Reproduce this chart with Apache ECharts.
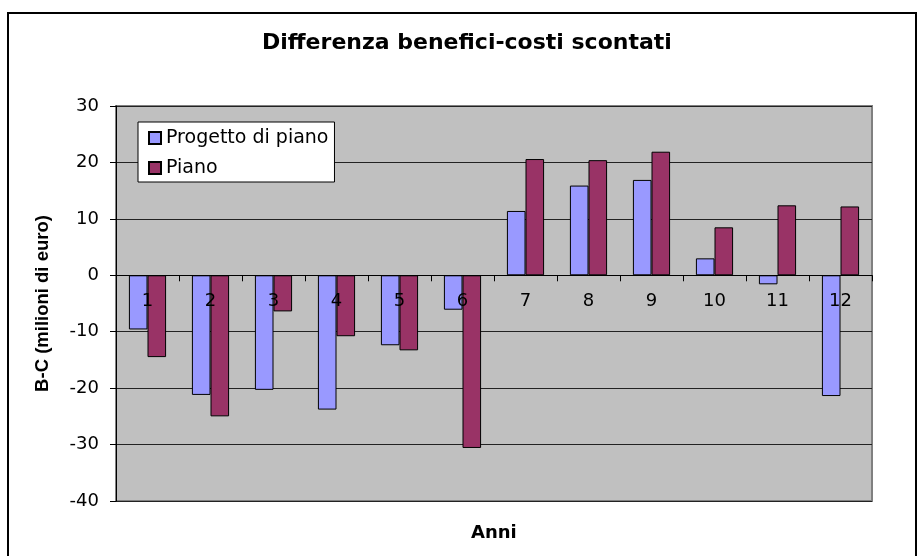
<!DOCTYPE html>
<html>
<head>
<meta charset="utf-8">
<script src="https://cdn.jsdelivr.net/npm/echarts@6/dist/echarts.min.js"></script>
<style>
html,body{margin:0;padding:0;background:#fff;}
#chart{width:918px;height:556px;}
</style>
</head>
<body>
<div id="chart"></div>
<script>
const titleText = 'Differenza benefici-costi scontati';
const xAxisName = 'Anni';
const yAxisName = 'B-C (milioni di euro)';
const categories = ['1','2','3','4','5','6','7','8','9','10','11','12'];
const seriesNames = ['Progetto di piano', 'Piano'];
const progettoValues = [-9.6, -21.2, -20.3, -23.8, -12.4, -6.1, 11.4, 15.9, 16.9, 3.0, -1.6, -21.4];
const pianoValues = [-14.5, -25.0, -6.4, -10.8, -13.3, -30.6, 20.6, 20.4, 21.9, 8.5, 12.4, 12.2];
const yMin = -40, yMax = 30, yStep = 10;

const W = 918, H = 556;
const gridTop = 106, gridBottom = 55;
const gridH = H - gridTop - gridBottom;
// place the category axis on the zero line
const zeroOffset = -gridH * (0 - yMin) / (yMax - yMin);

const chart = echarts.init(document.getElementById('chart'), null, {renderer: 'canvas'});
const F = 'DejaVu Sans';
chart.setOption({
  animation: false,
  backgroundColor: '#ffffff',
  graphic: [{
    type: 'rect', z: -10, silent: true,
    shape: {x: 8, y: 13, width: 908, height: 580},
    style: {fill: 'none', stroke: '#000', lineWidth: 2}
  }],
  title: [{
    text: titleText, left: 262, top: 32, padding: 0,
    textStyle: {fontFamily: F, fontWeight: 'bold', fontSize: 22, color: '#000'}
  }, {
    text: xAxisName, left: 471, top: 524, padding: 0,
    textStyle: {fontFamily: F, fontWeight: 'bold', fontSize: 18, color: '#000'}
  }],
  legend: {
    orient: 'vertical', left: 138, top: 122,
    padding: [6, 6, 4, 10], itemGap: 10,
    backgroundColor: '#fff', borderColor: '#000', borderWidth: 1,
    icon: 'rect', itemWidth: 12, itemHeight: 12,
    textStyle: {fontFamily: F, fontSize: 19, color: '#000', lineHeight: 20},
    data: seriesNames
  },
  grid: {
    left: 116, right: 46, top: gridTop, bottom: gridBottom,
    containLabel: false, outerBoundsMode: 'none',
    show: true, backgroundColor: '#c0c0c0', borderColor: '#808080', borderWidth: 2
  },
  xAxis: {
    type: 'category', data: categories, z: 10,
    position: 'bottom', offset: zeroOffset,
    axisLine: {onZero: false, lineStyle: {color: '#000', width: 1}},
    axisTick: {show: true, alignWithLabel: false, length: 6, lineStyle: {color: '#000'}},
    axisLabel: {fontFamily: F, fontSize: 18, color: '#000', margin: 17},
    splitLine: {show: false}
  },
  yAxis: {
    type: 'value', min: yMin, max: yMax, interval: yStep,
    name: yAxisName, nameLocation: 'middle', nameGap: 64,
    nameTextStyle: {fontFamily: 'Liberation Sans', fontWeight: 'bold', fontSize: 18.5, color: '#000'},
    axisLine: {show: true, onZero: false, lineStyle: {color: '#000', width: 1}},
    axisTick: {show: true, length: 6, lineStyle: {color: '#000'}},
    axisLabel: {fontFamily: F, fontSize: 18, color: '#000', margin: 17},
    splitLine: {show: true, lineStyle: {color: '#222', width: 1}}
  },
  series: [
    {
      name: seriesNames[0], type: 'bar', data: progettoValues,
      barGap: '0%', barCategoryGap: '41%',
      itemStyle: {color: '#9999ff', borderColor: '#000', borderWidth: 1}
    },
    {
      name: seriesNames[1], type: 'bar', data: pianoValues,
      barGap: '0%', barCategoryGap: '41%',
      itemStyle: {color: '#993366', borderColor: '#000', borderWidth: 1}
    }
  ]
});
</script>
</body>
</html>
